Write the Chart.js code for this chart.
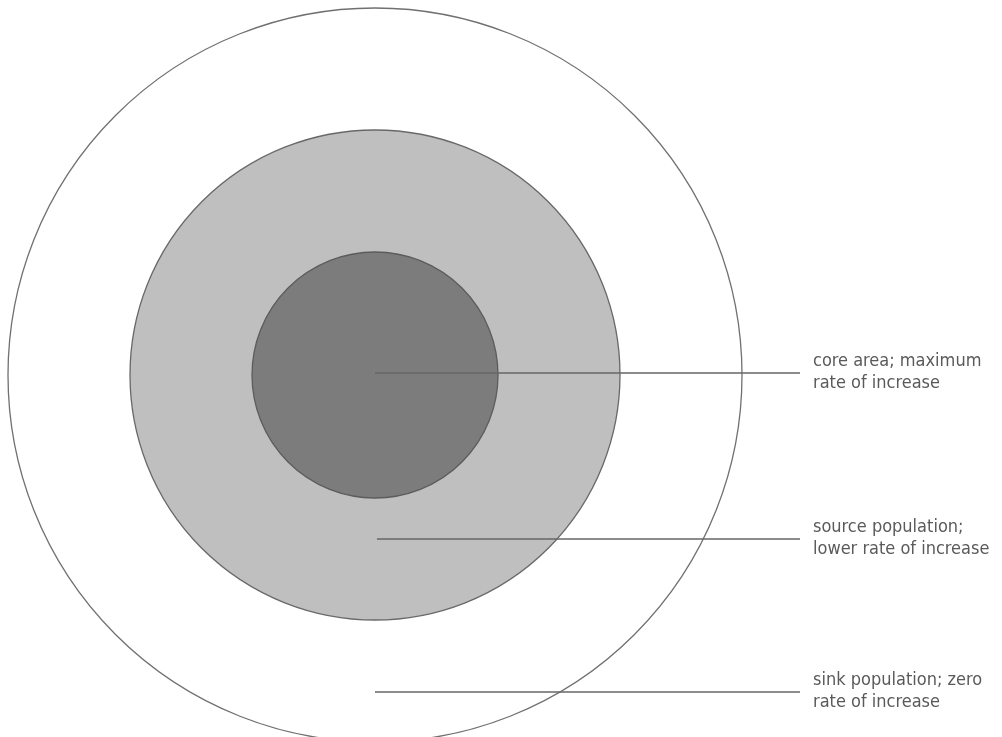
<!DOCTYPE html>
<html>
<head>
<meta charset="utf-8">
<script src="https://cdn.jsdelivr.net/npm/chart.js@4/dist/chart.umd.min.js"></script>
<style>
  html, body { margin: 0; padding: 0; background: #fff; }
  canvas { display: block; }
</style>
</head>
<body>
<canvas id="zones" width="1002" height="737"></canvas>
<script>
// Concentric population zones (core / source / sink) with leader-line labels

// Data, outermost zone first
const zoneNames = ['sink', 'source', 'core'];
const zoneRadii = [367, 245, 123];
const centre = { x: 375, y: 375 };
const labelLines = [
  ['sink population; zero', 'rate of increase'],
  ['source population;', 'lower rate of increase'],
  ['core area; maximum', 'rate of increase']
];
const leaderY = [692, 539, 373];
const leaderStartX = [375, 377, 375];
const leaderEndX = 800;

// Styles
const zoneFills = ['#ffffff', '#bfbfbf', '#7c7c7c'];
const zoneStrokes = ['#707070', '#686868', '#5c5c5c'];
const inkColor = '#5a5a5a';

const datasets = [];

// Circles: bubbles whose r is the radius in pixels
zoneNames.forEach((name, i) => {
  datasets.push({
    type: 'bubble',
    label: name,
    data: [{ x: centre.x, y: centre.y, r: zoneRadii[i] }],
    backgroundColor: zoneFills[i],
    borderColor: zoneStrokes[i],
    borderWidth: 1.3,
    hoverRadius: 0,
    clip: false,
    order: 3 - i
  });
});

// Leader lines
zoneNames.forEach((name, i) => {
  datasets.push({
    type: 'line',
    label: name + ' leader',
    data: [{ x: leaderStartX[i], y: leaderY[i] }, { x: leaderEndX, y: leaderY[i] }],
    borderColor: '#666666',
    borderWidth: 1.3,
    pointRadius: 0,
    fill: false,
    order: 0
  });
});

// Label text next to the end of each leader line
const labelPlugin = {
  id: 'zoneLabels',
  afterDatasetsDraw(chart) {
    const { ctx, scales: { x, y } } = chart;
    ctx.save();
    ctx.font = '18px "Liberation Sans Narrow", "DejaVu Sans Condensed", "Roboto Condensed", sans-serif';
    ctx.fillStyle = inkColor;
    ctx.textAlign = 'left';
    ctx.textBaseline = 'middle';
    labelLines.forEach((lines, i) => {
      const px = x.getPixelForValue(leaderEndX) + 13;
      const py = y.getPixelForValue(leaderY[i]);
      ctx.fillText(lines[0], px, py - 12);
      ctx.fillText(lines[1], px, py + 10);
    });
    ctx.restore();
  }
};

new Chart(document.getElementById('zones').getContext('2d'), {
  type: 'bubble',
  data: { datasets },
  options: {
    responsive: false,
    animation: false,
    events: [],
    layout: { padding: 0, autoPadding: false },
    scales: {
      x: { type: 'linear', min: 0, max: 1002, display: false },
      y: { type: 'linear', min: 0, max: 737, reverse: true, display: false }
    },
    plugins: {
      legend: { display: false },
      tooltip: { enabled: false }
    }
  },
  plugins: [labelPlugin]
});
</script>
</body>
</html>
